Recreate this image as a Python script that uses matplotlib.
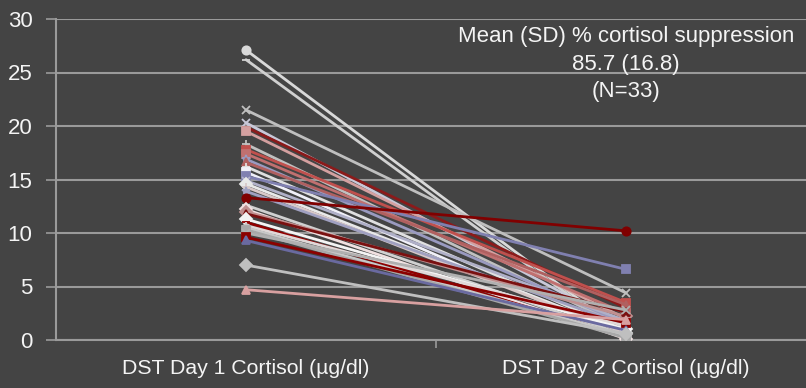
import matplotlib.pyplot as plt
from matplotlib.ticker import FixedLocator

plt.rcParams['font.family'] = ['Liberation Sans', 'DejaVu Sans']

# Cortisol (ug/dl) for each patient on day 1 and day 2 of the DST
day1 = [27.1, 26.2, 21.5, 20.3, 19.9, 19.5, 18.3, 17.8, 17.4, 16.9, 16.6,
        16.2, 15.7, 15.3, 14.9, 14.6, 14.3, 13.9, 13.3, 12.6, 12.2, 12.0,
        11.8, 11.3, 11.0, 10.7, 10.5, 10.3, 10.0, 9.6, 9.3, 7.0, 4.7]
day2 = [0.5, 0.3, 4.4, 1.2, 3.0, 2.0, 1.1, 3.5, 2.5, 1.5, 3.3,
        0.8, 0.2, 6.6, 1.8, 0.7, 0.6, 1.4, 10.2, 0.4, 0.1, 2.2,
        2.6, 1.0, 0.3, 1.3, 0.4, 0.2, 2.8, 1.6, 0.9, 0.6, 1.9]
categories = ['DST Day 1 Cortisol (µg/dl)', 'DST Day 2 Cortisol (µg/dl)']
note_lines = ['Mean (SD) % cortisol suppression', '85.7 (16.8)', '(N=33)']

# one colour / marker per patient, cycled like the office palette
COLORS = ['#d9d9d9', '#d0d0d0', '#bfbfbf', '#c8c8d8', '#8b1a1a', '#d4a0a0',
          '#c0c0c0', '#c0504d', '#c07070', '#9a9ac0', '#b06060', '#e0e0e0',
          '#f0f0f8', '#8080b0', '#b0b0c8', '#e8e8e8', '#d8c8c8', '#a0a0c0',
          '#800000', '#d0d0d0', '#f0e0e0', '#c09090', '#7a1010', '#f4f4f4',
          '#900000', '#e0d8d8', '#c8c8c8', '#a8a8a8', '#b0b0b0', '#8b0000',
          '#6a6aa0', '#bfbfbf', '#d8a0a0']
MARKERS = ['o', '_', 'x', 'x', '_', 's', '+', 's', 's', '*', '^',
           '+', 's', 's', 'x', 'D', '+', '*', 'o', '_', 'D', 'D',
           '^', 'D', '_', '+', 'o', 's', 'x', 's', '^', 'D', '^']

BG = '#444444'
GRID = '#9a9a9a'
TEXT = '#f4f4f4'

fig = plt.figure(figsize=(8.06, 3.88), dpi=100, facecolor=BG)
ax = fig.add_axes([56 / 806, 48 / 388, 760 / 806, 321 / 388], facecolor=BG)

xs = [0, 1]
for i, (a, b) in enumerate(zip(day1, day2)):
    ax.plot(xs, [a, b], color=COLORS[i], marker=MARKERS[i], markersize=6,
            markeredgewidth=1.3, linewidth=2.0, solid_capstyle='round',
            zorder=3)

ax.set_xlim(-0.5, 1.5)
ax.set_ylim(0, 30)
ax.set_yticks(range(0, 31, 5))
ax.yaxis.grid(True, color=GRID, linewidth=1.5, zorder=0)
ax.set_axisbelow(True)

ax.set_xticks(xs)
ax.set_xticklabels(categories)
ax.xaxis.set_minor_locator(FixedLocator([0.5]))
ax.tick_params(axis='x', which='major', length=0, pad=14, labelsize=15.3,
               colors=TEXT)
ax.tick_params(axis='x', which='minor', length=6, width=1.2, color=GRID)
ax.tick_params(axis='y', length=7, width=1.2, color=GRID, pad=10,
               labelsize=16, labelcolor=TEXT)

for side in ['top', 'right']:
    ax.spines[side].set_visible(False)
for side in ['left', 'bottom']:
    ax.spines[side].set_color(GRID)
    ax.spines[side].set_linewidth(1.5)

for line, yb in zip(note_lines, [41.7, 70, 97]):
    fig.text(626 / 806, 1 - yb / 388, line, ha='center', va='baseline',
             fontsize=16, color=TEXT)

fig.savefig('out.png', dpi=100, facecolor=BG)
